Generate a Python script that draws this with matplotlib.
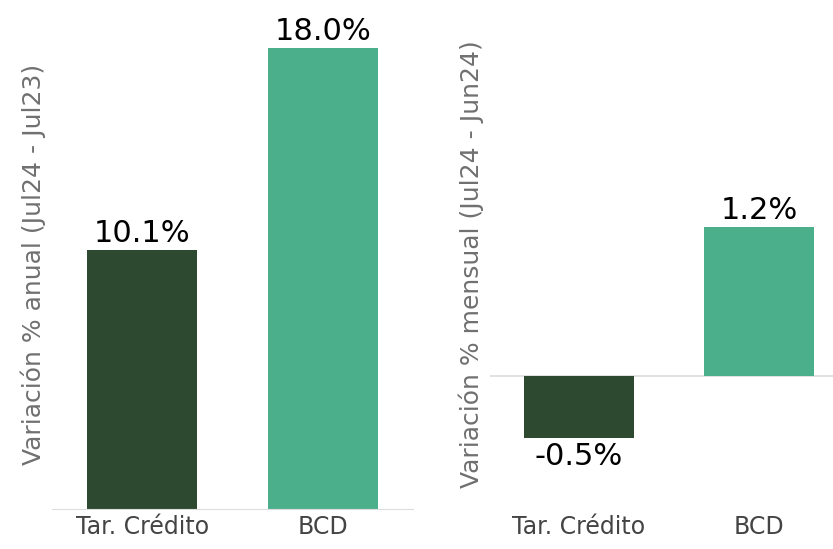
import matplotlib
matplotlib.use('Agg')
import matplotlib.pyplot as plt

categorias = ['Tar. Crédito', 'BCD']
anual = [10.1, 18.0]
mensual = [-0.5, 1.2]
colores = ['#2d4a30', '#4caf8b']

plt.rcParams['font.family'] = ['DejaVu Sans']

fig = plt.figure(figsize=(8.33, 5.49), dpi=100)

# panel izquierdo: variacion anual
ax1 = fig.add_axes([52/833, 40/549, 361/833, 489/549])
x = range(len(categorias))
bars = ax1.bar(x, anual, width=0.61, color=colores)
ax1.set_xlim(-0.5, 1.5)
ax1.set_ylim(0, 19.1)
for b, v in zip(bars, anual):
    ax1.text(b.get_x() + b.get_width()/2, v + 0.1, f'{v:.1f}%',
             ha='center', va='bottom', fontsize=22, color='black')
ax1.set_xticks(list(x))
ax1.set_xticklabels(categorias, fontsize=17, color='#444444')
ax1.set_yticks([])
ax1.set_ylabel('Variación % anual (Jul24 - Jul23)', fontsize=18, color='#707070', labelpad=4)
for s in ['top', 'right', 'left']:
    ax1.spines[s].set_visible(False)
ax1.spines['bottom'].set_color('#dddddd')
ax1.tick_params(axis='x', length=0, pad=4)

# panel derecho: variacion mensual
ax2 = fig.add_axes([490/833, 40/549, 343/833, 489/549])
bars2 = ax2.bar(x, mensual, width=0.61, color=colores)
ax2.set_xlim(-0.494, 1.41)
ax2.set_ylim(-1.073, 2.87)
ax2.axhline(0, color='#dddddd', lw=1.2, zorder=0)
for b, v in zip(bars2, mensual):
    if v >= 0:
        ax2.text(b.get_x() + b.get_width()/2, v + 0.02, f'{v:.1f}%',
                 ha='center', va='bottom', fontsize=22, color='black')
    else:
        ax2.text(b.get_x() + b.get_width()/2, v - 0.03, f'{v:.1f}%',
                 ha='center', va='top', fontsize=22, color='black')
ax2.set_xticks(list(x))
ax2.set_xticklabels(categorias, fontsize=17, color='#444444')
ax2.set_yticks([])
ax2.set_ylabel('Variación % mensual (Jul24 - Jun24)', fontsize=18, color='#707070', labelpad=4)
for s in ['top', 'right', 'left', 'bottom']:
    ax2.spines[s].set_visible(False)
ax2.tick_params(axis='x', length=0, pad=4)

fig.savefig('out.png', dpi=100)
